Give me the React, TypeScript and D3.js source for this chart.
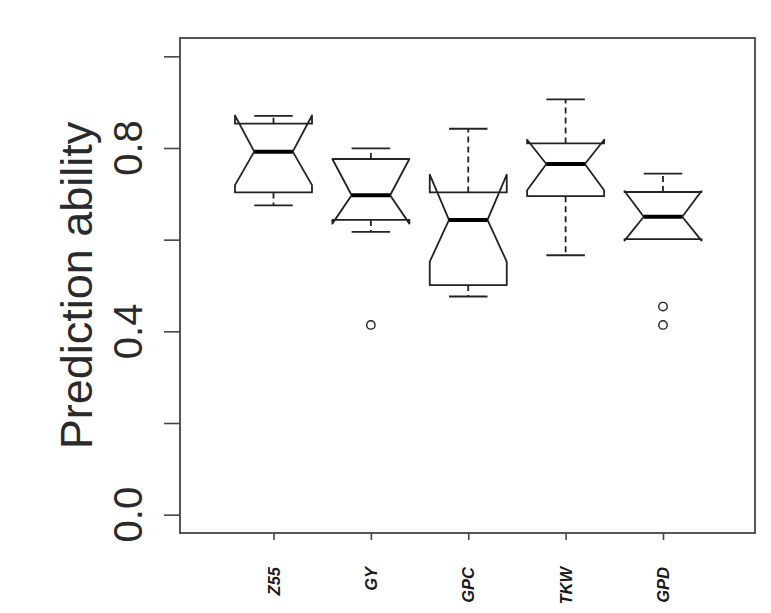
import { useEffect, useRef } from 'react';
import * as d3 from 'd3';

// values
const categories = ['Z55', 'GY', 'GPC', 'TKW', 'GPD'];
const lowerWhisker = [0.675, 0.617, 0.476, 0.566, 0.601];
const q1 = [0.703, 0.643, 0.501, 0.695, 0.601];
const notchLo = [0.719, 0.635, 0.552, 0.708, 0.598];
const median = [0.792, 0.697, 0.643, 0.765, 0.65];
const notchHi = [0.871, 0.776, 0.742, 0.818, 0.706];
const q3 = [0.853, 0.776, 0.703, 0.81, 0.704];
const upperWhisker = [0.87, 0.799, 0.842, 0.906, 0.744];
const outliers = [[], [0.414], [], [], [0.454, 0.414]];
const yTicks = [0, 0.2, 0.4, 0.6, 0.8, 1.0];
const yTickLabels = ['0.0', '', '0.4', '', '0.8', ''];

function App() {
  const svgRef = useRef<SVGSVGElement>(null);

  useEffect(() => {
    const W = 771;
    const H = 613;
    const left = 180, right = 755, top = 38, bottom = 533;
    const boxHalf = 38.5;
    const ink = '#222';

    const svg = d3.select(svgRef.current);
    svg.selectAll('*').remove();
    svg.attr('width', W).attr('height', H);

    svg.append('rect').attr('width', W).attr('height', H).attr('fill', '#fff');

    const y = d3.scaleLinear().domain([-0.04, 1.04]).range([bottom, top]);
    const x = d3.scalePoint<string>().domain(categories).range([273.5, 663]);

    const boxes = categories.map((c, i) => ({
      cat: c,
      lo: lowerWhisker[i],
      q1: q1[i],
      nLo: notchLo[i],
      med: median[i],
      nHi: notchHi[i],
      q3: q3[i],
      hi: upperWhisker[i],
      out: outliers[i],
    }));

    // whiskers (dashed, R style)
    const g = svg.append('g');
    boxes.forEach(b => {
      const cx = x(b.cat) as number;
      [[b.q3, b.hi], [b.q1, b.lo]].forEach(([from, to]) => {
        if (from === to) return;
        g.append('line')
          .attr('x1', cx).attr('x2', cx)
          .attr('y1', y(from)).attr('y2', y(to))
          .attr('stroke', ink).attr('stroke-width', 1.8)
          .attr('stroke-dasharray', '6,4');
        g.append('line')
          .attr('x1', cx - boxHalf / 2).attr('x2', cx + boxHalf / 2)
          .attr('y1', y(to)).attr('y2', y(to))
          .attr('stroke', ink).attr('stroke-width', 1.8);
      });
    });

    // notched boxes
    boxes.forEach(b => {
      const cx = x(b.cat) as number;
      const pts: [number, number][] = [
        [cx - boxHalf, y(b.q1)],
        [cx - boxHalf, y(b.nLo)],
        [cx - boxHalf / 2, y(b.med)],
        [cx - boxHalf, y(b.nHi)],
        [cx - boxHalf, y(b.q3)],
        [cx + boxHalf, y(b.q3)],
        [cx + boxHalf, y(b.nHi)],
        [cx + boxHalf / 2, y(b.med)],
        [cx + boxHalf, y(b.nLo)],
        [cx + boxHalf, y(b.q1)],
      ];
      g.append('path')
        .attr('d', d3.line()(pts) + 'Z')
        .attr('fill', 'none')
        .attr('stroke', ink)
        .attr('stroke-width', 1.8)
        .attr('stroke-linejoin', 'round');

      g.append('line')
        .attr('x1', cx - boxHalf / 2).attr('x2', cx + boxHalf / 2)
        .attr('y1', y(b.med)).attr('y2', y(b.med))
        .attr('stroke', '#000').attr('stroke-width', 4);

      b.out.forEach(v => {
        g.append('circle')
          .attr('cx', cx).attr('cy', y(v)).attr('r', 4.2)
          .attr('fill', 'none').attr('stroke', ink).attr('stroke-width', 1.4);
      });
    });

    // frame
    svg.append('rect')
      .attr('x', left).attr('y', top)
      .attr('width', right - left).attr('height', bottom - top)
      .attr('fill', 'none').attr('stroke', '#444').attr('stroke-width', 1.8);

    // y axis
    const yAxis = svg.append('g')
      .attr('transform', `translate(${left},0)`)
      .call(d3.axisLeft(y).tickValues(yTicks).tickSize(16).tickFormat(() => ''));
    yAxis.select('.domain').remove();
    yAxis.selectAll('line').attr('stroke', '#444').attr('stroke-width', 1.6);

    svg.append('g')
      .selectAll('text')
      .data(yTicks.map((v, i) => ({ v, label: yTickLabels[i] })).filter(d => d.label))
      .join('text')
      .attr('transform', d => `translate(142,${y(d.v)}) rotate(-90)`)
      .attr('text-anchor', 'middle')
      .style('font-family', '"Liberation Sans", Arial, sans-serif')
      .style('font-size', '40px')
      .attr('fill', '#2a2a2a')
      .text(d => d.label);

    svg.append('text')
      .attr('transform', `translate(92,${(top + bottom) / 2}) rotate(-90)`)
      .attr('text-anchor', 'middle')
      .style('font-family', '"Liberation Sans", Arial, sans-serif')
      .style('font-size', '45px')
      .attr('fill', '#2a2a2a')
      .text('Prediction ability');

    // x axis
    const xAxis = svg.append('g')
      .attr('transform', `translate(0,${bottom})`)
      .call(d3.axisBottom(x).tickSize(7).tickFormat(() => ''));
    xAxis.select('.domain').remove();
    xAxis.selectAll('line').attr('stroke', '#444').attr('stroke-width', 1.6);

    svg.append('g')
      .selectAll('text')
      .data(categories)
      .join('text')
      .attr('transform', d => `translate(${(x(d) as number) + 6},567) rotate(-90)`)
      .attr('text-anchor', 'end')
      .style('font-family', '"Liberation Sans", Arial, sans-serif')
      .style('font-size', '16.5px')
      .style('font-weight', 'bold')
      .style('font-style', 'italic')
      .attr('fill', '#1a1a1a')
      .text(d => d);
  }, []);

  return (
    <div style={{ position: 'absolute', left: 0, top: 0 }}>
      <svg ref={svgRef}></svg>
    </div>
  );
}

export default App;
